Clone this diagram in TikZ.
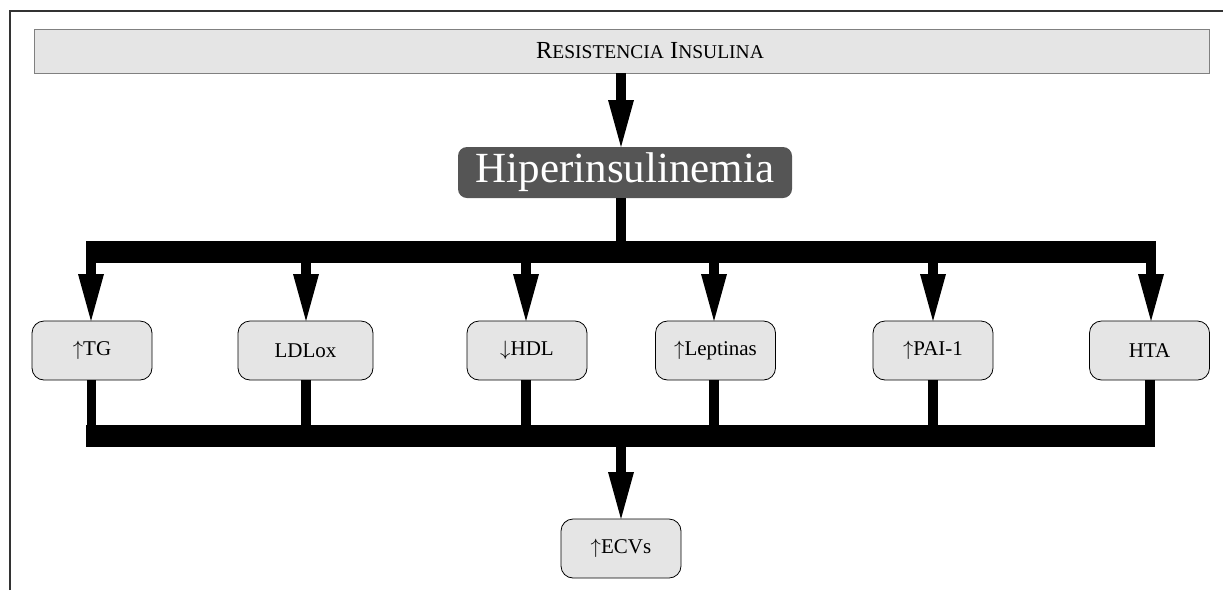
\documentclass[tikz,border=0pt]{standalone}
\usepackage{fontspec}
\setmainfont{Liberation Serif}
\usetikzlibrary{shadows}
\definecolor{boxgray}{HTML}{E5E5E5}
\definecolor{darkfill}{HTML}{555555}
\definecolor{framegray}{HTML}{333333}
\newcommand\smallcapsize{\fontsize{19.5}{23}\selectfont}
\newcommand\up{$\uparrow$}
\newcommand\down{$\downarrow$}
\begin{document}
\begin{tikzpicture}[x=1pt,y=-1pt,
  topbox/.style={draw=gray, line width=0.9pt, fill=boxgray, minimum width=1175pt, minimum height=44pt, inner sep=0pt,
    drop shadow={shadow xshift=1.4pt, shadow yshift=-1.4pt, fill=black!85, opacity=1}},
  hyperbox/.style={fill=darkfill, text=white, rounded corners=9pt, minimum width=334pt, minimum height=51pt, inner sep=0pt,
    font=\fontsize{43}{48}\selectfont},
  item/.style={draw=black, line width=0.8pt, fill=boxgray, rounded corners=12pt, minimum width=120pt, minimum height=59pt,
    inner sep=0pt, font=\fontsize{21}{25}\selectfont},
  shaft/.style={line width=9.5pt},
  bus/.style={line width=22pt},
]
\useasboundingbox (0,0) rectangle (1223,590);

% outer frame (left and top edges)
\draw[framegray, line width=1.3pt] (10,590) -- (10,11) -- (1223,11);

% arrow head with its tip at a given point
\newcommand\tipat[1]{\fill (#1) -- ++(-13,-47) -- ++(26,0) -- cycle;}

% boxes
\node[topbox] (ri) at (621.5,51) {};
\node[font=\fontsize{24.5}{28}\selectfont] (rit) at (650,51) {R{\smallcapsize ESISTENCIA} I{\smallcapsize NSULINA}};
\node[hyperbox] (hi) at (625,172.5) {Hiperinsulinemia};

\node[item] (tg)  at (92,350.5)   {\up TG};
\node[item, minimum width=135pt] (ldl) at (305.5,350.5) {LDLox};
\node[item] (hdl) at (527,350.5)  {\down HDL};
\node[item] (lep) at (715.5,350.5) {\up Leptinas};
\node[item] (pai) at (933,350.5)  {\up PAI-1};
\node[item] (hta) at (1149.5,350.5) {HTA};
\node[item] (ecv) at (621,548.5)  {\up ECVs};

% bus lines
\coordinate (upL) at (86,251.5);
\coordinate (upR) at (1156,251.5);
\coordinate (loL) at (86,436);
\coordinate (loR) at (1155,436);
\draw[bus] (upL) -- (upR);
\draw[bus] (loL) -- (loR);

% resistance -> hyperinsulinemia
\coordinate (hitop) at (621,147);
\draw[shaft] (ri.south -| hitop) -- ([yshift=46pt]hitop);
\tipat{hitop}

% hyperinsulinemia -> upper bus
\draw[shaft] (hi.south -| hitop) -- (hitop |- upL);

% upper bus -> items
\foreach \n/\x in {tg/91,ldl/306,hdl/526,lep/714,pai/933,hta/1151}{
  \coordinate (\n top) at (\x,321);
  \draw[shaft] (\n top |- upL) -- ([yshift=46pt]\n top);
  \tipat{\n top}
}

% items -> lower bus
\foreach \n/\x in {tg/91.5,ldl/306,hdl/526,lep/714,pai/933,hta/1150}{
  \draw[shaft] (\n.south -| \x,0) -- (\x,436);
}

% lower bus -> ECVs
\coordinate (ecvtop) at (621,519);
\draw[shaft] (ecvtop |- loL) -- ([yshift=46pt]ecvtop);
\tipat{ecvtop}
\end{tikzpicture}
\end{document}
